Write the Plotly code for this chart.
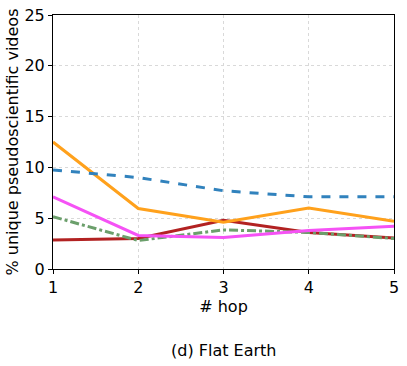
import plotly.graph_objects as go

hops = [1, 2, 3, 4, 5]

# series values (% unique pseudoscientific videos)
red_vals = [2.85, 3.0, 4.8, 3.6, 3.05]
green_vals = [5.15, 2.8, 3.85, 3.6, 3.0]
magenta_vals = [7.1, 3.3, 3.1, 3.8, 4.2]
orange_vals = [12.5, 5.95, 4.6, 6.0, 4.7]
blue_vals = [9.75, 9.0, 7.7, 7.1, 7.1]

font = dict(family="DejaVu Sans", size=16, color="black")

fig = go.Figure()

# 線の描画
fig.add_trace(go.Scatter(x=hops, y=red_vals, mode="lines",
                         line=dict(color="#b22222", width=3)))
fig.add_trace(go.Scatter(x=hops, y=green_vals, mode="lines",
                         line=dict(color="#6b9f6b", width=3, dash="dashdot")))
fig.add_trace(go.Scatter(x=hops, y=magenta_vals, mode="lines",
                         line=dict(color="#f552f5", width=3)))
fig.add_trace(go.Scatter(x=hops, y=orange_vals, mode="lines",
                         line=dict(color="#ffa11c", width=3)))
fig.add_trace(go.Scatter(x=hops, y=blue_vals, mode="lines",
                         line=dict(color="#3182bd", width=3, dash="dash")))

axis_common = dict(
    showline=True, linecolor="black", linewidth=1, mirror=True,
    ticks="outside", ticklen=4, tickcolor="black",
    showgrid=True, gridcolor="#d9d9d9", gridwidth=1, griddash="dot",
    zeroline=False, tickfont=font, automargin=False,
)

fig.update_layout(
    width=407, height=366,
    margin=dict(l=53, r=13, t=15, b=97),
    plot_bgcolor="white", paper_bgcolor="white",
    showlegend=False,
    font=font,
    xaxis=dict(axis_common, range=[1, 5], tickvals=hops,
               title=dict(text="# hop", font=font, standoff=0)),
    yaxis=dict(axis_common, range=[0, 25], tickvals=[0, 5, 10, 15, 20, 25],
               title=dict(text="% unique pseudoscientific videos", font=font, standoff=1)),
    annotations=[dict(text="(d) Flat Earth", x=0.5, y=-0.319, xref="paper", yref="paper",
                      showarrow=False, font=font, xanchor="center", yanchor="middle")],
)

# bodyの余白を消す、モードバー非表示
fig.write_html("out.html", config={"displayModeBar": False},
               post_script="document.body.style.margin='0';")
